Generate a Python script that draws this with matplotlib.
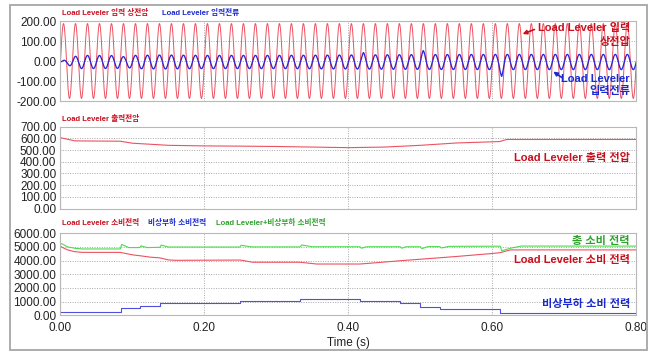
import numpy as np
import matplotlib
matplotlib.use("Agg")
import matplotlib.pyplot as plt
from matplotlib.patches import Rectangle, FancyArrowPatch
from matplotlib.ticker import FormatStrFormatter

plt.rcParams['font.family'] = ['Liberation Sans', 'Noto Sans CJK KR']

# 입력 상전압 / 입력전류 (파형)
freq = 60
volt_amp = 187
cur_t = [0, 0.01, 0.02, 0.03, 0.08, 0.09, 0.1, 0.14, 0.2, 0.3, 0.4, 0.5, 0.6, 0.8]
cur_amp = [3, 15, 28, 33, 32, 25, 33, 35, 33, 33, 35, 37, 38, 38]
cur_offset = -5
cur_dist_t = [0, 0.418, 0.421, 0.424, 0.5, 0.504, 0.508, 0.609, 0.613, 0.617, 0.8]
cur_dist = [0, 0, 12, 0, 0, 20, 0, 0, -35, 0, 0]

# 출력전압
out_t = [0, 0, 0.02, 0.083, 0.1, 0.15, 0.2, 0.25, 0.3, 0.4, 0.45, 0.5, 0.55, 0.6, 0.61, 0.62, 0.8]
out_v = [0, 605, 578, 575, 558, 540, 535, 533, 530, 520, 525, 540, 560, 570, 572, 590, 590]

# 소비전력
ll_t = [0, 0.003, 0.01, 0.02, 0.03, 0.083, 0.1, 0.111, 0.125, 0.138, 0.15, 0.16, 0.25, 0.267,
        0.333, 0.356, 0.416, 0.44, 0.472, 0.5, 0.55, 0.6, 0.611, 0.625, 0.8]
ll_p = [5050, 4950, 4780, 4650, 4600, 4600, 4420, 4350, 4250, 4200, 4050, 4020, 4040, 3880,
        3880, 3750, 3750, 3850, 3990, 4100, 4300, 4520, 4580, 4780, 4780]

em_t = [0, 0.084, 0.111, 0.138, 0.25, 0.333, 0.416, 0.472, 0.5, 0.527, 0.611, 0.8]
em_p = [220, 560, 680, 920, 1050, 1197, 1050, 930, 640, 445, 200, 200]

tot_t = [0, 0, 0.003, 0.01, 0.02, 0.03, 0.083, 0.085, 0.095, 0.11, 0.112, 0.12, 0.138, 0.14,
         0.15, 0.249, 0.251, 0.265, 0.333, 0.335, 0.35, 0.416, 0.418, 0.425, 0.472, 0.474,
         0.48, 0.5, 0.502, 0.51, 0.527, 0.529, 0.54, 0.6, 0.611, 0.613, 0.625, 0.64, 0.8]
tot_p = [0, 5260, 5200, 5000, 4900, 4850, 4850, 5180, 4950, 4950, 5080, 4950, 4970, 5130,
         4990, 4990, 5120, 5000, 5000, 5140, 5010, 5010, 4900, 5010, 5010, 4900,
         5010, 5010, 4870, 5020, 5020, 4920, 5040, 5050, 5050, 4720, 4900, 5060, 5060]

red_line = '#ec5260'
red_txt = '#c8101e'
blue_line = '#2828d8'
blue_step = '#5050e0'
blue_txt = '#1a2ad0'
green_line = '#4cdc4c'
green_txt = '#2ea02e'
grid_c = '#a8a8a8'

fig = plt.figure(figsize=(6.5, 3.53), dpi=100)
fig.patches.append(Rectangle((10 / 650, 3 / 353), 637 / 650, 345 / 353, transform=fig.transFigure,
                             fill=False, ec='#a6a6a6', lw=1.3))

left, width = 60.5 / 650, 575.8 / 650
ax1 = fig.add_axes([left, 1 - 101 / 353, width, 80 / 353])
ax2 = fig.add_axes([left, 1 - 208.5 / 353, width, 81.9 / 353])
ax3 = fig.add_axes([left, 1 - 315.4 / 353, width, 82.2 / 353])

t = np.linspace(0, 0.8, 6001)
volt = volt_amp * np.sin(2 * np.pi * freq * t)
cur = cur_offset + np.interp(t, cur_t, cur_amp) * np.sin(2 * np.pi * freq * t) + np.interp(t, cur_dist_t, cur_dist)

ax1.plot(t, volt, color=red_line, lw=0.7)
ax1.plot(t, cur, color=blue_line, lw=0.95)
ax1.set_ylim(-200, 200)
ax1.set_yticks([-200, -100, 0, 100, 200])

ax2.plot(out_t, out_v, color=red_line, lw=0.8)
ax2.set_ylim(0, 700)
ax2.set_yticks(range(0, 701, 100))

ax3.plot(ll_t, ll_p, color=red_line, lw=0.8)
ax3.plot(em_t, em_p, color=blue_step, lw=0.8, drawstyle='steps-post')
ax3.plot(tot_t, tot_p, color=green_line, lw=0.8)
ax3.set_ylim(0, 6000)
ax3.set_yticks(range(0, 6001, 1000))

for ax in (ax1, ax2, ax3):
    ax.set_xlim(0, 0.8)
    ax.set_xticks([0, 0.2, 0.4, 0.6, 0.8])
    ax.yaxis.set_major_formatter(FormatStrFormatter('%.2f'))
    ax.xaxis.set_major_formatter(FormatStrFormatter('%.2f'))
    ax.tick_params(length=0, labelsize=8.5, colors='#222222', pad=3)
    ax.grid(True, color=grid_c, ls=(0, (1, 1.5)), lw=0.7)
    ax.set_axisbelow(True)
    for s in ax.spines.values():
        s.set_color('#b8b8b8')
        s.set_linewidth(0.8)
for ax in (ax1, ax2):
    ax.tick_params(labelbottom=False)
ax3.tick_params(axis='x', pad=5)
ax3.set_xlabel('Time (s)', fontsize=8.5, color='#222222', labelpad=2)


def px(x, y):
    return x / 650, 1 - y / 353


# 상단 범례 텍스트
small = dict(fontsize=5.5, fontweight='bold', va='center', ha='left')
fig.text(*px(62, 13.5), 'Load Leveler 입력 상전압', color=red_txt, **small)
fig.text(*px(162.5, 13.5), 'Load Leveler 입력전류', color=blue_txt, **small)
fig.text(*px(62, 119.5), 'Load Leveler 출력전압', color=red_txt, **small)
fig.text(*px(62, 222.7), 'Load Leveler 소비전력', color=red_txt, **small)
fig.text(*px(148, 222.7), '비상부하 소비전력', color=blue_txt, **small)
fig.text(*px(216, 222.7), 'Load Leveler+비상부하 소비전력', color=green_txt, **small)

# 오른쪽 주석
big = dict(fontsize=8, fontweight='bold', va='center', ha='right')
fig.text(*px(630, 28.3), 'Load Leveler 입력', color=red_txt, **big)
fig.text(*px(630, 41.7), '상전압', color=red_txt, **big)
fig.text(*px(630, 79.3), 'Load Leveler', color=blue_txt, **big)
fig.text(*px(630, 90.7), '입력전류', color=blue_txt, **big)
fig.text(*px(630, 158.3), 'Load Leveler 출력 전압', color=red_txt, **big)
fig.text(*px(630, 240.7), '총 소비 전력', color=green_txt, **big)
fig.text(*px(630, 260), 'Load Leveler 소비 전력', color=red_txt, **big)
fig.text(*px(630, 304.3), '비상부하 소비 전력', color=blue_txt, **big)

fig.add_artist(FancyArrowPatch(px(537, 28.5), px(520, 35), transform=fig.transFigure,
                               arrowstyle='-|>', mutation_scale=6, color=red_txt, lw=1.2))
fig.add_artist(FancyArrowPatch(px(564, 79), px(551, 70), transform=fig.transFigure,
                               arrowstyle='-|>', mutation_scale=6, color=blue_txt, lw=1.2))

fig.savefig('out.png', dpi=100)
